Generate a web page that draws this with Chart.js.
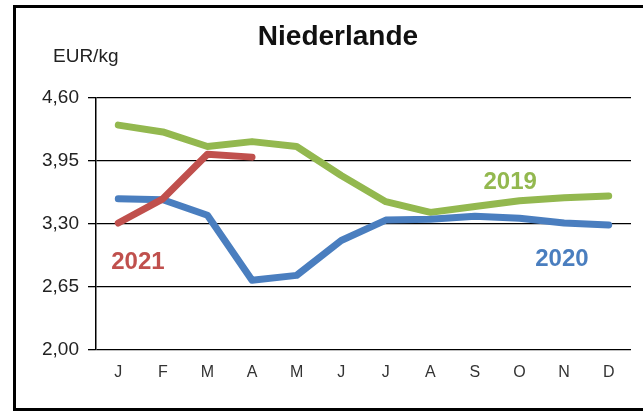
<!DOCTYPE html>
<html>
<head>
<meta charset="utf-8">
<script src="https://cdn.jsdelivr.net/npm/chart.js@4"></script>
<style>
  html, body { margin: 0; padding: 0; background: #fff; }
  #wrap { width: 643px; height: 413px; }
</style>
</head>
<body>
<div id="wrap"><canvas id="chart" width="643" height="413"></canvas></div>
<script>
// months (J..D)
var months = ['J', 'F', 'M', 'A', 'M', 'J', 'J', 'A', 'S', 'O', 'N', 'D'];
var yTicks = [2.00, 2.65, 3.30, 3.95, 4.60];

// EUR/kg per month
var values2019 = [4.32, 4.25, 4.10, 4.15, 4.10, 3.80, 3.53, 3.42, 3.48, 3.54, 3.57, 3.59];
var values2020 = [3.56, 3.55, 3.39, 2.72, 2.77, 3.13, 3.34, 3.35, 3.38, 3.36, 3.31, 3.29];
var values2021 = [3.31, 3.56, 4.02, 3.99];

// series name labels, placed at (month index, value)
var seriesLabels = [
  { text: '2019', x: 8.79, y: 3.73, color: '#93b84f' },
  { text: '2020', x: 9.95, y: 2.94, color: '#4a7ebf' },
  { text: '2021', x: 0.44, y: 2.90, color: '#c0504d' }
];

var chartTitle = 'Niederlande';
var unitLabel = 'EUR/kg';

var decoPlugin = {
  id: 'deco',
  beforeDraw: function (chart) {
    var ctx = chart.ctx;
    ctx.save();
    ctx.fillStyle = '#fff';
    ctx.fillRect(0, 0, chart.width, chart.height);
    // frame (left, top, bottom)
    ctx.strokeStyle = '#000';
    ctx.lineWidth = 3;
    ctx.beginPath();
    ctx.moveTo(643, 6.5);
    ctx.lineTo(14.5, 6.5);
    ctx.lineTo(14.5, 409.5);
    ctx.lineTo(643, 409.5);
    ctx.stroke();
    ctx.restore();
  },
  afterDraw: function (chart) {
    var ctx = chart.ctx;
    var xs = chart.scales.x, ys = chart.scales.y;
    ctx.save();
    ctx.textBaseline = 'alphabetic';
    ctx.fillStyle = '#111';
    ctx.font = 'bold 28px "Liberation Sans", Arial, sans-serif';
    ctx.textAlign = 'center';
    ctx.fillText(chartTitle, 338, 45);
    ctx.font = '19px "Liberation Sans", Arial, sans-serif';
    ctx.textAlign = 'left';
    ctx.fillStyle = '#222';
    ctx.fillText(unitLabel, 53, 62);
    ctx.font = 'bold 24px "Liberation Sans", Arial, sans-serif';
    ctx.textAlign = 'center';
    ctx.textBaseline = 'middle';
    seriesLabels.forEach(function (l) {
      ctx.fillStyle = l.color;
      ctx.fillText(l.text, xs.getPixelForValue(l.x), ys.getPixelForValue(l.y));
    });
    ctx.restore();
  }
};

function lineSet(label, data, color, order) {
  return {
    label: label,
    data: data,
    borderColor: color,
    backgroundColor: color,
    borderWidth: 7,
    borderCapStyle: 'round',
    borderJoinStyle: 'round',
    pointRadius: 0,
    tension: 0,
    fill: false,
    order: order
  };
}

var myChart = new Chart(document.getElementById('chart').getContext('2d'), {
  type: 'line',
  data: {
    labels: months,
    datasets: [
      lineSet('2019', values2019, '#93b84f', 3),
      lineSet('2020', values2020, '#4a7ebf', 2),
      lineSet('2021', values2021, '#c0504d', 1)
    ]
  },
  options: {
    responsive: false,
    animation: false,
    devicePixelRatio: 1,
    layout: { padding: { left: 0, top: 98, right: 12, bottom: 33 } },
    plugins: { legend: { display: false }, title: { display: false }, tooltip: { enabled: false } },
    scales: {
      x: {
        offset: true,
        grid: { display: false, drawTicks: false },
        border: { display: false },
        ticks: { color: '#333', padding: 13, font: { size: 16, family: '"Liberation Sans", Arial, sans-serif' }, maxRotation: 0, autoSkip: false },
        afterFit: function (s) { s.height = 30; }
      },
      y: {
        min: 2,
        max: 4.6,
        grid: { color: '#000', lineWidth: 1.3, tickLength: 8, tickColor: '#000' },
        border: { display: true, color: '#000', width: 1.5 },
        ticks: {
          color: '#222',
          padding: 9,
          font: { size: 19, family: '"Liberation Sans", Arial, sans-serif' },
          callback: function (v) { return Number(v).toFixed(2).replace('.', ','); }
        },
        afterBuildTicks: function (s) { s.ticks = yTicks.map(function (v) { return { value: v }; }); },
        afterFit: function (s) { s.width = 96; }
      }
    }
  },
  plugins: [decoPlugin]
});
</script>
</body>
</html>
